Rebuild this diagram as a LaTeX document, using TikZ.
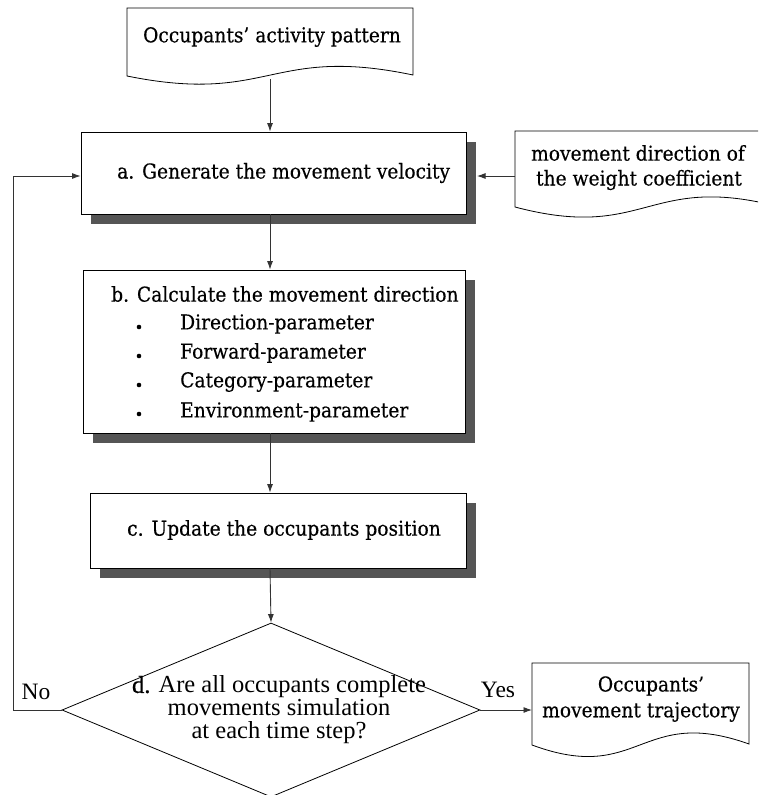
\documentclass[tikz,border=0pt]{standalone}
\usepackage{fontspec}
\setmainfont{DejaVu Serif}[FakeStretch=0.91,FakeBold=0.3]
\newfontfamily\mbold{DejaVu Serif}[FakeStretch=0.91,FakeBold=0.9]
\newfontfamily\dfont{Liberation Serif}
\newfontfamily\dbold{Liberation Serif}[FakeBold=0.9]
\usetikzlibrary{shapes.geometric,arrows.meta,shadows}
\definecolor{shadowgray}{HTML}{555555}
\definecolor{linegray}{HTML}{333333}
\begin{document}
\begin{tikzpicture}[x=1pt,y=-1pt,
  box/.style={draw=black, fill=white, line width=0.8pt, inner sep=0,
    drop shadow={shadow xshift=10pt, shadow yshift=-10pt, fill=shadowgray, opacity=1}},
  doc/.style={draw=black, fill=white, line width=0.8pt},
  conn/.style={draw=linegray, line width=0.9pt, -{Latex[length=8.5pt,width=6pt]}},
  txt/.style={font=\fontsize{20.5}{29}\selectfont, inner sep=0},
  dtxt/.style={font=\dfont\fontsize{24.5}{23}\selectfont, inner sep=0},
  bul/.style={circle, fill=black, inner sep=0, minimum size=4.6pt},
]
\useasboundingbox (0,0) rectangle (758,795);
\clip (0,0) rectangle (758,795);

% top document
\draw[doc] (127,8) -- (413,8) -- (413,75)
  .. controls (270,45) and (270,105) .. (127,76) -- cycle;
\node[txt] (top) at (272,37) {Occupants’ activity pattern};
\coordinate (topout) at (270,79);

% right document
\draw[doc] (515,131) -- (780,131) -- (780,207)
  .. controls (647,172) and (647,242) .. (515,207) -- cycle;
\node[txt] (w1) at (638,153) {movement direction of};
\node[txt] (w2) at (639,180) {the weight coefficient};
\coordinate (wout) at (515,176);

% box a
\node[box, minimum width=385pt, minimum height=82pt] (a) at (273.5,173) {};
\node[txt, anchor=west] (ta) at (117,173) {{\mbold a.} Generate the movement velocity};

% box b
\node[box, minimum width=382pt, minimum height=163pt] (b) at (274,351.5) {};
\node[txt, anchor=west] (tb) at (111,294) {b. Calculate the movement direction};
\node[bul] (b1) at (139,327) {};
\node[bul] (b2) at (139,356) {};
\node[bul] (b3) at (139,385) {};
\node[bul] (b4) at (139,414) {};
\node[txt, anchor=west] (i1) at (180,324) {Direction-parameter};
\node[txt, anchor=west] (i2) at (180,353) {Forward-parameter};
\node[txt, anchor=west] (i3) at (180,382) {Category-parameter};
\node[txt, anchor=west] (i4) at (180,412) {Environment-parameter};

% box c
\node[box, minimum width=376pt, minimum height=75pt] (c) at (278,530.5) {};
\node[txt, anchor=west] (tc) at (127,530) {{\mbold c.} Update the occupants position};

% diamond
\node[diamond, draw=black, line width=0.8pt, inner sep=0, minimum width=418pt, minimum height=174pt] (d) at (271,710) {};
\node[dtxt, align=center] (dt) at (279,710) {{\dbold d.} Are all occupants complete\\ movements simulation\\ at each time step?};
\node[dtxt, font=\dfont\fontsize{23.5}{23}\selectfont] (no) at (36,692) {No};
\node[dtxt, font=\dfont\fontsize{23.5}{23}\selectfont] (yes) at (498,690) {Yes};

% bottom document
\draw[doc] (532,663) -- (749,663) -- (749,744)
  .. controls (640,705) and (640,785) .. (532,745) -- cycle;
\node[txt] (o1) at (651,686) {Occupants’};
\node[txt] (o2) at (641,712) {movement trajectory};
\coordinate (oin) at (532,710);

% connectors
\coordinate (aleft) at (a.west |- 0,176);
\coordinate (aright) at (477,176);
\coordinate (loopb) at (13,710);
\coordinate (loopt) at (13,176);
\draw[conn] (topout) -- (topout |- a.north);
\draw[conn] (a.south -| 270,0) -- (b.north -| 270,0);
\draw[conn] (b.south -| 270,0) -- (c.north -| 270,0);
\draw[conn] (c.south -| 270,0) -- (d.north);
\draw[conn] (wout) -- (aright);
\draw[conn] (d.east) -- (oin);
\draw[conn] (d.west) -- (loopb) -- (loopt) -- (aleft);
\end{tikzpicture}
\end{document}
